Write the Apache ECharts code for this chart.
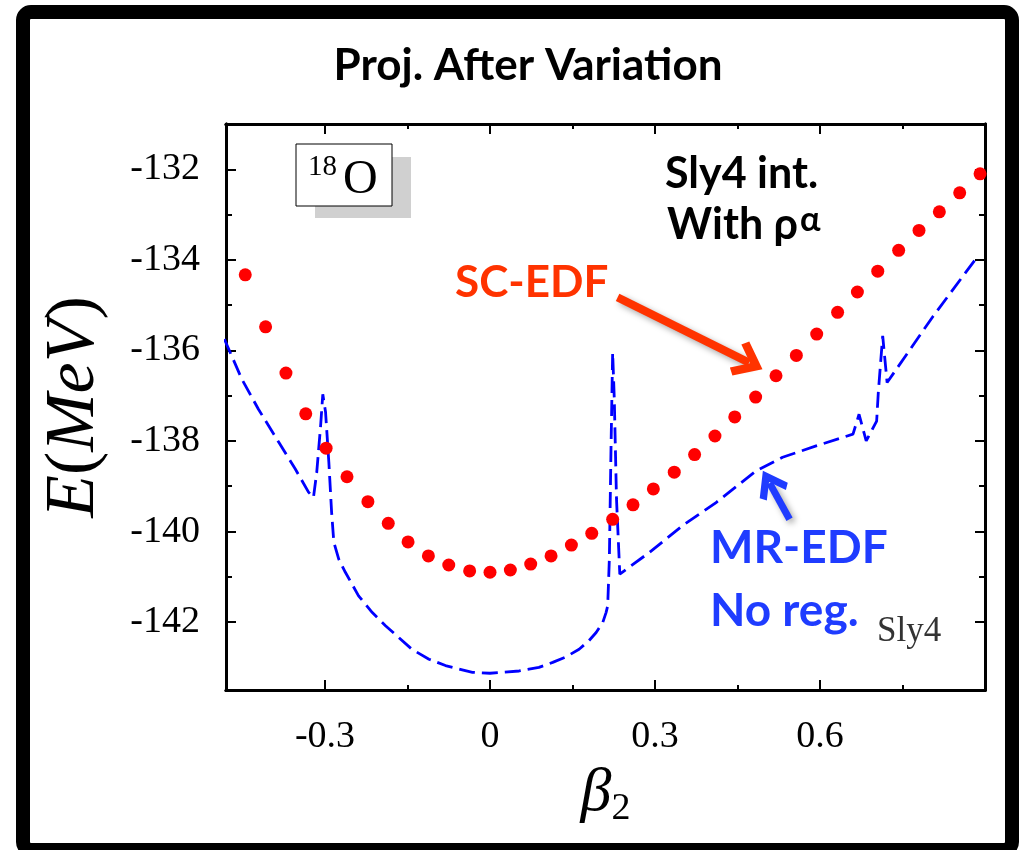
<!DOCTYPE html>
<html>
<head>
<meta charset="utf-8">
<title>Proj. After Variation</title>
<script src="https://cdn.jsdelivr.net/npm/echarts@6/dist/echarts.min.js"></script>
<style>
    html, body { margin: 0; padding: 0; background: #fff; }
    #chart { width: 1023px; height: 850px; }
</style>
</head>
<body>
<div id="chart"></div>
<script>
(function() {
    'use strict';

    // SC-EDF, projected after variation (red dots)
    var scBeta = [-0.445, -0.408, -0.371, -0.335, -0.298, -0.260, -0.222, -0.185, -0.149, -0.112,
        -0.075, -0.037, 0.000, 0.037, 0.074, 0.111, 0.148, 0.185, 0.223, 0.260,
        0.297, 0.335, 0.372, 0.409, 0.445, 0.483, 0.520, 0.557, 0.594, 0.632,
        0.668, 0.705, 0.743, 0.780, 0.817, 0.854, 0.891];
    var scEnergy = [-134.33, -135.48, -136.50, -137.40, -138.16, -138.79, -139.34, -139.82, -140.23, -140.54,
        -140.74, -140.87, -140.90, -140.85, -140.72, -140.54, -140.30, -140.04, -139.73, -139.41,
        -139.06, -138.69, -138.30, -137.89, -137.47, -137.03, -136.56, -136.11, -135.64, -135.16,
        -134.71, -134.25, -133.79, -133.35, -132.94, -132.52, -132.10];

    // MR-EDF without regularisation (blue dashed curve)
    var mrBeta = [-0.483, -0.451, -0.421, -0.384, -0.354, -0.330, -0.321, -0.315, -0.308, -0.304,
        -0.299, -0.293, -0.288, -0.284, -0.275, -0.263, -0.239, -0.214, -0.190, -0.166,
        -0.142, -0.111, -0.081, -0.032, 0.000, 0.053, 0.089, 0.114, 0.138, 0.162,
        0.180, 0.193, 0.205, 0.211, 0.214, 0.217, 0.220, 0.223, 0.226, 0.230,
        0.236, 0.290, 0.350, 0.411, 0.484, 0.532, 0.593, 0.660, 0.671, 0.684,
        0.703, 0.706, 0.714, 0.722, 0.806, 0.885];
    var mrEnergy = [-135.75, -136.64, -137.30, -138.03, -138.62, -139.13, -139.25, -138.69, -137.67, -136.97,
        -137.36, -138.47, -139.57, -140.23, -140.61, -140.90, -141.42, -141.79, -142.08, -142.34,
        -142.60, -142.82, -142.96, -143.11, -143.13, -143.08, -143.00, -142.89, -142.77, -142.60,
        -142.41, -142.23, -142.01, -141.79, -141.64, -140.61, -138.18, -136.05, -137.08, -139.28,
        -140.94, -140.46, -139.87, -139.36, -138.66, -138.36, -138.11, -137.85, -137.41, -138.00,
        -137.56, -136.93, -135.68, -136.71, -135.24, -133.95];

    // Tick positions
    var xMajorTicks = [-0.3, 0, 0.3, 0.6];
    var xMinorTicks = [-0.15, 0.15, 0.45, 0.75];
    var yMajorTicks = [-142, -140, -138, -136, -134, -132];
    var yMinorTicks = [-141, -139, -137, -135, -133];

    var serif = '"Liberation Serif", "DejaVu Serif", serif';
    var sans = 'Lato, "Open Sans", sans-serif';
    // open arrow head, tip pointing up
    var chevron = 'path://M50,0 L100,58 L84,72 L50,33 L16,72 L0,58 Z';

    function zip(xs, ys) {
        return xs.map(function(x, i) { return [x, ys[i]]; });
    }

    function makeX(position, ticks, len, withLabel) {
        return {
            type: 'value',
            position: position,
            min: -0.48,
            max: 0.9,
            axisLine: { show: true, onZero: false, lineStyle: { color: '#000', width: 3 } },
            axisTick: { show: true, inside: true, length: len, customValues: ticks, lineStyle: { color: '#000', width: 2 } },
            axisLabel: { show: withLabel, customValues: ticks, margin: 28, color: '#000', fontFamily: serif, fontSize: 38 },
            splitLine: { show: false },
            name: withLabel ? '{b|\u03b2}{s|2}' : '',
            nameLocation: 'middle',
            nameGap: 70,
            nameMoveOverlap: false,
            nameTextStyle: {
                rich: {
                    b: { fontFamily: serif, fontStyle: 'italic', fontSize: 62, color: '#000' },
                    s: { fontFamily: serif, fontSize: 38, color: '#000', padding: [30, 0, 0, 0] }
                }
            }
        };
    }

    function makeY(position, ticks, len, withLabel) {
        return {
            type: 'value',
            position: position,
            min: -143.5,
            max: -131,
            axisLine: { show: true, onZero: false, lineStyle: { color: '#000', width: 3 } },
            axisTick: { show: true, inside: true, length: len, customValues: ticks, lineStyle: { color: '#000', width: 2 } },
            axisLabel: { show: withLabel, customValues: ticks, margin: 26, color: '#000', fontFamily: serif, fontSize: 38 },
            splitLine: { show: false },
            name: withLabel ? '{i|E}{r|(}{i|MeV}{r|)}' : '',
            nameLocation: 'middle',
            nameGap: 116,
            nameRotate: 90,
            nameMoveOverlap: false,
            nameTextStyle: {
                rich: {
                    i: { fontFamily: serif, fontStyle: 'italic', fontSize: 70, color: '#000' },
                    r: { fontFamily: serif, fontSize: 70, color: '#000' }
                }
            }
        };
    }

    function label(x, y, text, color, size, family, weight) {
        return {
            type: 'text',
            x: x,
            y: y,
            style: {
                text: text,
                fill: color,
                font: (weight || 'normal') + ' ' + size + 'px ' + family,
                align: 'left',
                verticalAlign: 'middle'
            }
        };
    }

    function arrow(color, width, from, to, headSize) {
        return {
            silent: true,
            animation: false,
            symbol: ['none', chevron],
            label: { show: false },
            lineStyle: {
                color: color, width: width, type: 'solid', opacity: 1,
                shadowColor: 'rgba(0,0,0,0.35)', shadowBlur: 6, shadowOffsetX: 3, shadowOffsetY: 3
            },
            itemStyle: { color: color },
            data: [[
                { coord: from, symbolSize: 1 },
                { coord: to, symbolSize: headSize }
            ]]
        };
    }

    var chart = echarts.init(document.getElementById('chart'));

    var option = {
        animation: false,
        backgroundColor: '#fff',
        title: {
            text: 'Proj. After Variation',
            left: 528,
            top: 44,
            textAlign: 'center',
            padding: 0,
            textStyle: { fontFamily: sans, fontWeight: 'bold', fontSize: 44, color: '#000' }
        },
        grid: {
            left: 226,
            top: 124,
            width: 759,
            height: 566,
            outerBoundsMode: 'none'
        },
        xAxis: [
            makeX('bottom', xMajorTicks, 10, true),
            makeX('bottom', xMinorTicks, 5, false),
            makeX('top', xMajorTicks, 10, false),
            makeX('top', xMinorTicks, 5, false)
        ],
        yAxis: [
            makeY('left', yMajorTicks, 10, true),
            makeY('left', yMinorTicks, 6, false),
            makeY('right', yMajorTicks, 10, false),
            makeY('right', yMinorTicks, 6, false)
        ],
        series: [{
            name: 'MR-EDF',
            type: 'line',
            z: 2,
            data: zip(mrBeta, mrEnergy),
            showSymbol: false,
            smooth: false,
            lineStyle: { color: '#0000ff', width: 2.8, type: [16, 7] },
            markLine: arrow('#1f3cff', 7, [0.5446, -139.73], [0.5084, -138.93], [32, 28])
        }, {
            name: 'SC-EDF',
            type: 'scatter',
            z: 3,
            data: zip(scBeta, scEnergy),
            symbol: 'circle',
            symbolSize: 13,
            itemStyle: { color: '#ff0000', opacity: 1 },
            markLine: arrow('#ff3300', 8, [0.232, -134.83], [0.471, -136.27], [38, 30])
        }],
        graphic: [
            // slide frame
            {
                type: 'rect',
                shape: { x: 23, y: 12, width: 989, height: 838, r: 8 },
                style: { fill: 'none', stroke: '#000', lineWidth: 14 }
            },
            // nucleus tag with its shadow
            {
                type: 'rect',
                shape: { x: 315, y: 157, width: 96, height: 61 },
                style: { fill: '#d0d0d0' }
            },
            {
                type: 'rect',
                shape: { x: 296, y: 144, width: 96, height: 62 },
                style: { fill: '#fff', stroke: '#000', lineWidth: 1 }
            },
            label(308, 167, '18', '#000', 29, serif),
            label(343, 180, 'O', '#000', 48, serif),
            label(665, 174, 'Sly4 int.', '#000', 43, sans, 'bold'),
            {
                type: 'text',
                x: 667,
                y: 225,
                style: {
                    text: 'With \u03c1{sup|\u03b1}',
                    fill: '#000',
                    font: 'bold 43px ' + sans,
                    align: 'left',
                    verticalAlign: 'middle',
                    rich: { sup: { fontFamily: sans, fontWeight: 'bold', fontSize: 34, fill: '#000', padding: [0, 0, 10, 2] } }
                }
            },
            label(455, 283, 'SC-EDF', '#ff3300', 44, sans, 'bold'),
            label(710, 548, 'MR-EDF', '#1f3cff', 46, sans, 'bold'),
            label(710, 611, 'No reg.', '#1f3cff', 46, sans, 'bold'),
            label(877, 632, 'Sly4', '#333', 35, serif)
        ]
    };

    chart.setOption(option);
})();
</script>
</body>
</html>
